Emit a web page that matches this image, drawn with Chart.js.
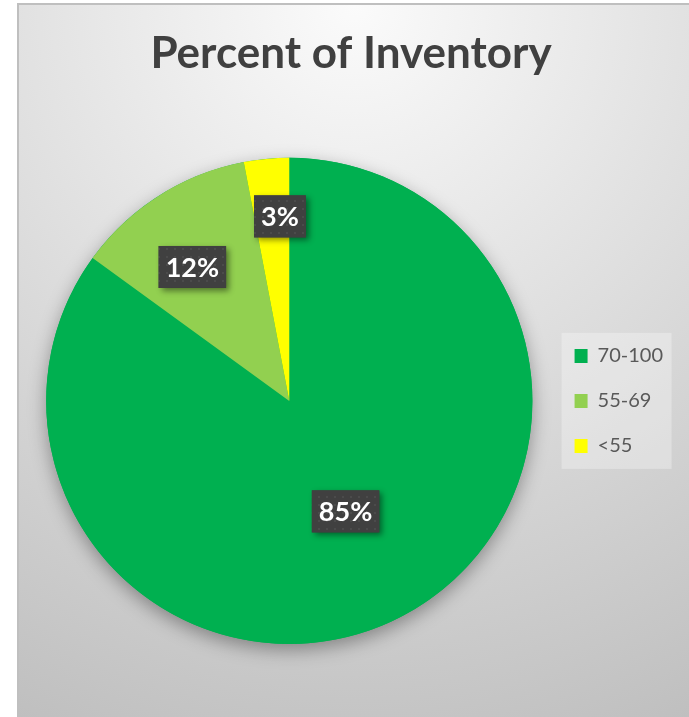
<!DOCTYPE html>
<html>
<head>
<meta charset="utf-8">
<script src="https://cdn.jsdelivr.net/npm/chart.js@4.4.1/dist/chart.umd.min.js"></script>
<style>
  html, body { margin: 0; padding: 0; background: #fff; }
  #frame {
    position: absolute; left: 17px; top: 3px;
    width: 670px; height: 712px;
    border-top: 2px solid #bfbfbf; border-left: 2px solid #bfbfbf;
    background: radial-gradient(circle farthest-corner at 50% 0%, #fbfbfb 0%, #bfbfbf 100%);
  }
  #wrap { position: absolute; left: 0; top: 0; width: 670px; height: 712px; }
</style>
</head>
<body>
<div id="frame"><div id="wrap"><canvas id="inventorychart"></canvas></div></div>
<script>
// chart data
const categories = ['70-100', '55-69', '<55']
const percents = [85, 12, 3]
const sliceColors = ['#00B050', '#92D050', '#FFFF00']
const chartTitle = 'Percent of Inventory'

// little dotted texture used on the label boxes
function dotPattern(ctx) {
    let c = document.createElement('canvas')
    c.width = 8
    c.height = 8
    let p = c.getContext('2d')
    p.fillStyle = '#404040'
    p.fillRect(0, 0, 8, 8)
    p.fillStyle = '#4b4b4b'
    p.fillRect(3, 3, 2, 2)
    return ctx.createPattern(c, 'repeat')
}

// soft shadow under the whole pie
const pieShadow = {
    id: 'pieShadow',
    beforeDatasetsDraw(chart) {
        let arc = chart.getDatasetMeta(0).data[0]
        if (!arc) return
        let {x, y, outerRadius} = arc.getProps(['x', 'y', 'outerRadius'], true)
        let ctx = chart.ctx
        ctx.save()
        ctx.shadowColor = 'rgba(0,0,0,0.35)'
        ctx.shadowBlur = 18
        ctx.shadowOffsetY = 6
        ctx.beginPath()
        ctx.arc(x, y, outerRadius, 0, Math.PI * 2)
        ctx.fillStyle = sliceColors[0]
        ctx.fill()
        ctx.restore()
    }
}

// dark percent boxes on the slices
const sliceLabels = {
    id: 'sliceLabels',
    afterDatasetsDraw(chart, args, opts) {
        let ctx = chart.ctx
        let pattern = dotPattern(ctx)
        chart.getDatasetMeta(0).data.forEach((arc, i) => {
            let p = arc.getProps(['x', 'y', 'startAngle', 'endAngle', 'outerRadius'], true)
            let mid = (p.startAngle + p.endAngle) / 2 + opts.shift[i] * Math.PI / 180
            let r = p.outerRadius * opts.radius[i]
            let cx = p.x + Math.cos(mid) * r
            let cy = p.y + Math.sin(mid) * r
            let text = percents[i] + '%'
            ctx.save()
            ctx.font = 'bold 27px Lato'
            let w = ctx.measureText(text).width + 14
            let h = 42
            ctx.shadowColor = 'rgba(0,0,0,0.45)'
            ctx.shadowBlur = 6
            ctx.shadowOffsetX = 3
            ctx.shadowOffsetY = 3
            ctx.fillStyle = '#404040'
            ctx.fillRect(cx - w / 2, cy - h / 2, w, h)
            ctx.shadowColor = 'transparent'
            ctx.fillStyle = pattern
            ctx.fillRect(cx - w / 2, cy - h / 2, w, h)
            ctx.fillStyle = '#ffffff'
            ctx.textAlign = 'center'
            ctx.textBaseline = 'middle'
            ctx.fillText(text, cx, cy + 1)
            ctx.restore()
        })
    }
}

// lighter panel behind the legend
const legendPanel = {
    id: 'legendPanel',
    beforeDraw(chart) {
        let lg = chart.legend
        if (!lg || !lg.legendHitBoxes || !lg.legendHitBoxes.length) return
        let boxes = lg.legendHitBoxes
        let left = boxes[0].left - 13
        let top = boxes[0].top - 13
        let last = boxes[boxes.length - 1]
        let bottom = last.top + last.height + 13
        let ctx = chart.ctx
        ctx.save()
        ctx.fillStyle = 'rgba(255,255,255,0.3)'
        ctx.fillRect(left, top, 110, bottom - top)
        ctx.restore()
    }
}

let chart = new Chart(document.getElementById('inventorychart'), {
    type: 'pie',
    data: {
        labels: categories,
        datasets: [{
            data: percents,
            backgroundColor: sliceColors,
            borderWidth: 0
        }]
    },
    options: {
        responsive: true,
        maintainAspectRatio: false,
        animation: false,
        layout: {
            padding: { left: 10, right: 16, top: 0, bottom: 73 }
        },
        plugins: {
            title: {
                display: true,
                text: chartTitle,
                color: '#404040',
                font: { family: 'Lato', size: 44, weight: 'bold', lineHeight: 1.2 },
                padding: { top: 22, bottom: 78 }
            },
            legend: {
                position: 'right',
                fullSize: false,
                labels: {
                    color: '#595959',
                    font: { family: 'Lato', size: 20 },
                    boxWidth: 13,
                    boxHeight: 14,
                    padding: 25
                }
            },
            tooltip: { enabled: false },
            sliceLabels: { radius: [0.51, 0.68, 0.76], shift: [0, -3.5, 2.5] }
        }
    },
    plugins: [legendPanel, pieShadow, sliceLabels]
})
</script>
</body>
</html>
